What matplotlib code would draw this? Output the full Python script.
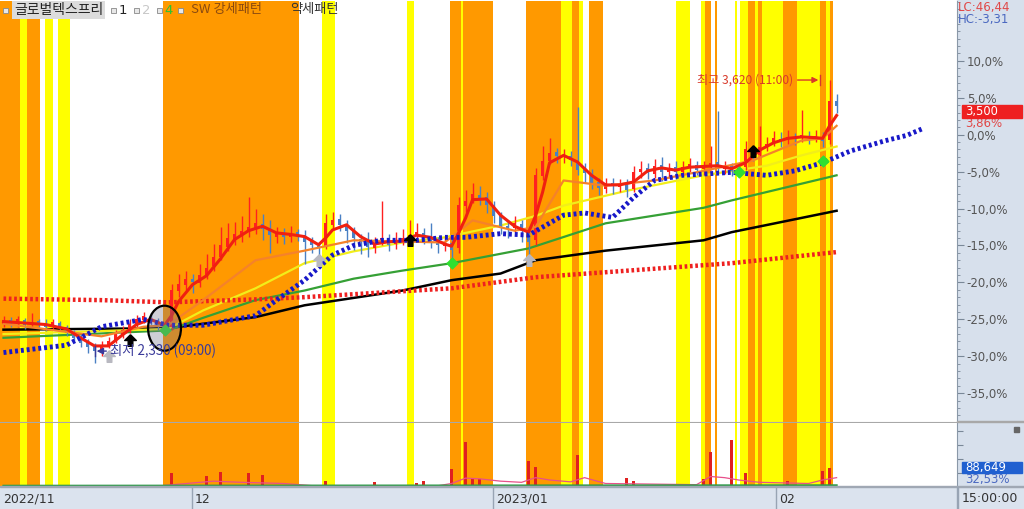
import numpy as np
import matplotlib.pyplot as plt
from matplotlib.patches import Ellipse, Rectangle
from matplotlib.ticker import MultipleLocator, FuncFormatter

plt.rcParams['font.family'] = ['Noto Sans CJK KR', 'DejaVu Sans']

stock_name = '글로벌텍스프리'
high_label = '최고 3,620 (11:00)'
low_label = '최저 2,330 (09:00)'
month_labels = ['2022/11', '12', '2023/01', '02']
month_starts = [-0.5, 26.9, 69.9, 110.4]
last_time = '15:00:00'

# candles, in % from reference price
open_ = [-25.6, -25.1, -25.6, -25.1, -25.7, -25.2, -25.5, -25.9, -25.5,
         -26.1, -26.9, -27.6, -28.1, -28.7, -29.4,
         -28.5, -27.8, -27.1, -26.3, -25.7, -25.1,
         -24.7, -25.2, -25.8,
         -26.0, -21.2, -20.4, -19.5, -20.1, -19.1, -17.8, -16.6, -15.2, -14.1, -13.7, -13.1, -12.6, -12.1, -12.7, -13.8, -13.3, -13.9, -13.2, -13.6, -14.4, -15.1,
         -15.1, -12.2, -11.4, -12.3, -12.9, -14.1, -14.4, -15.3, -14.5, -14.1, -14.8, -14.2, -14.1, -13.5, -13.3, -14.1, -14.5, -15.1, -14.6,
         -15.4, -9.6, -8.9, -8.1, -8.5, -9.6, -10.9, -12.4, -12.7, -12.1, -13.1,
         -14.3, -5.6, -3.6, -2.4, -3.0, -2.9, -3.5, -4.7, -5.3, -6.4, -7.3, -6.5, -7.1, -6.7,
         -7.4, -5.1, -4.5, -5.3, -4.1, -5.1, -4.4, -5.1, -4.3, -4.1, -4.7, -4.3, -3.7, -4.7, -4.3, -5.0,
         -4.4, -2.1, -2.7, -1.7, -1.1, -0.6, -0.7, -0.4, -0.5, -0.2, -0.3, -0.3, -0.7, 4.5]
close = [-25.2, -25.5, -25.0, -25.8, -25.3, -25.6, -26.0, -25.4, -26.2,
         -26.8, -27.5, -28.2, -28.8, -29.3, -28.6,
         -27.9, -27.0, -26.4, -25.6, -25.0, -24.6,
         -25.3, -25.9, -26.2,
         -21.0, -20.2, -19.6, -20.0, -19.0, -18.0, -16.5, -15.0, -14.0, -13.5, -13.0, -12.5, -12.0, -12.8, -13.6, -13.4, -13.8, -13.3, -13.7, -14.5, -15.0, -15.3,
         -12.0, -11.5, -12.2, -13.0, -14.0, -14.5, -15.2, -14.6, -14.0, -14.9, -14.3, -14.0, -13.6, -13.2, -14.0, -14.6, -15.0, -14.7, -15.6,
         -9.5, -9.0, -8.0, -8.6, -9.5, -11.0, -12.3, -12.8, -12.0, -13.0, -14.5,
         -5.5, -3.5, -2.5, -2.9, -3.0, -3.4, -4.8, -5.2, -6.5, -7.2, -6.6, -7.0, -6.8, -7.5,
         -5.0, -4.6, -5.2, -4.2, -5.0, -4.5, -5.0, -4.4, -4.0, -4.8, -4.2, -3.8, -4.6, -4.4, -4.9, -4.5,
         -2.0, -2.8, -1.6, -1.2, -0.5, -0.8, -0.3, -0.6, -0.1, -0.4, -0.2, -0.8, 4.6, 3.86]
high = [-24.6, -24.7, -24.5, -24.8, -24.2, -24.9, -25.0, -25.0, -25.2,
        -25.8, -26.4, -27.0, -27.6, -28.2, -28.0,
        -27.4, -26.5, -25.9, -25.0, -24.4, -24.0,
        -24.2, -24.8, -25.3,
        -20.2, -18.8, -18.5, -18.9, -17.5, -16.2, -14.8, -12.5, -12.0, -11.8, -11.0, -8.5, -10.0, -10.8, -11.5, -12.5, -12.6, -12.4, -12.8, -12.9, -13.8, -14.5,
        -10.8, -10.5, -10.8, -11.6, -12.5, -13.4, -13.2, -13.8, -9.0, -13.5, -13.2, -12.8, -11.5, -12.0, -12.6, -12.0, -13.8, -13.9, -14.0,
        -8.5, -7.5, -6.5, -7.0, -7.8, -9.0, -10.5, -11.5, -11.0, -11.5, -12.5,
        -4.5, -1.5, -0.5, -1.8, -2.0, -2.2, 3.8, -3.8, -4.6, -5.8, -5.9, -5.8, -6.0, -6.0,
        -4.2, -3.5, -3.9, -3.3, -3.0, -3.8, -3.5, -3.6, -3.2, -3.6, -3.5, -1.5, 3.2, -3.6, -3.8, -3.9,
        -0.8, -1.6, 1.2, -0.3, 0.5, 0.3, 0.6, 0.2, 3.3, 0.5, 0.6, 0.4, 7.4, 5.5]
low = [-26.0, -26.0, -26.0, -26.3, -26.1, -26.0, -26.6, -26.3, -26.6,
       -27.2, -28.0, -28.8, -29.5, -30.9, -30.0,
       -28.9, -28.2, -27.5, -26.8, -26.0, -25.5,
       -25.8, -26.5, -26.8,
       -26.4, -22.0, -21.0, -21.5, -20.6, -19.5, -18.4, -17.0, -15.8, -15.0, -14.5, -13.8, -13.5, -14.2, -16.0, -14.6, -14.8, -14.5, -14.4, -17.5, -16.0, -17.0,
       -15.5, -12.6, -13.0, -14.6, -15.6, -16.2, -16.5, -16.0, -15.0, -15.8, -15.5, -14.9, -14.6, -14.2, -14.8, -15.4, -16.0, -15.8, -17.0,
       -16.0, -10.4, -9.2, -9.5, -10.6, -12.0, -13.4, -14.0, -13.2, -14.5, -17.2,
       -15.0, -6.2, -4.0, -3.8, -3.8, -4.3, -5.5, -6.5, -7.4, -8.2, -7.9, -8.0, -7.8, -8.4,
       -7.8, -5.8, -6.0, -5.8, -6.3, -5.8, -6.0, -5.6, -5.0, -5.5, -5.4, -4.8, -5.2, -5.3, -5.6, -5.4,
       -4.8, -3.6, -3.0, -2.2, -1.5, -1.6, -1.2, -1.4, -1.0, -1.2, -1.0, -1.6, -1.2, 3.0]

# moving averages (bar index, value)
ma_red_x = [0, 3, 6, 9, 11, 13, 15, 17, 19, 21, 23, 24, 25, 27, 29, 31, 33, 35, 37, 39,
            41, 43, 45, 46, 47, 49, 51, 53, 55, 57, 59, 61, 63, 64, 65, 66, 67, 69, 71, 73,
            75, 76, 77, 78, 80, 82, 84, 86, 88, 90, 92, 94, 96, 98, 100, 102, 104, 106, 108, 110,
            112, 114, 116, 117, 118, 119]
ma_red = [-25.3, -25.5, -25.7, -26.3, -27.5, -28.6, -28.6, -27.1, -25.7, -25.0,
          -25.8, -24.5, -22.6, -20.3, -19.1, -16.8, -14.2, -13.0, -12.4, -13.3,
          -13.5, -13.8, -14.9, -14.0, -12.9, -12.2, -13.8, -14.8, -14.5, -14.4,
          -13.6, -13.9, -14.8, -15.1, -13.3, -11.3, -8.8, -8.7, -10.9, -12.4,
          -13.2, -11.0, -7.8, -3.8, -2.8, -3.7, -5.5, -6.8, -6.8, -6.4,
          -4.9, -4.5, -4.8, -4.4, -4.3, -4.2, -4.6, -3.8, -2.1, -1.1,
          -0.5, -0.3, -0.4, -0.5, 1.2, 2.6]
ma_orange_x = [0, 14, 20, 23.5, 28.5, 36, 43, 50, 63, 67, 73, 76, 80, 86, 93, 100, 107, 114, 117, 119]
ma_orange = [-25.6, -27.3, -26.0, -25.8, -22.4, -17.0, -15.7, -14.3, -14.6, -11.6, -13.0, -12.5, -6.2, -6.9, -6.2, -4.9, -3.5, -0.8, -0.5, 1.2]
ma_yellow_x = [0, 23.5, 28.5, 36, 43, 50, 57, 63, 71, 76, 80, 89, 100, 109, 114, 119]
ma_yellow = [-27.0, -26.3, -23.8, -20.8, -17.4, -15.8, -14.6, -13.9, -12.3, -11.0, -9.6, -7.6, -5.5, -4.2, -2.8, -1.6]
ma_green_x = [0, 23.5, 28.5, 36, 43, 50, 57, 64, 75, 86, 100, 104, 119]
ma_green = [-27.5, -26.5, -24.8, -22.4, -21.1, -19.5, -18.4, -17.4, -15.4, -12.0, -9.9, -8.9, -5.5]
ma_black_x = [0, 23.5, 36, 43, 57, 64, 71, 76, 86, 100, 104, 119]
ma_black = [-26.4, -26.2, -24.7, -23.1, -21.1, -19.7, -18.8, -17.0, -15.7, -14.3, -13.2, -10.3]
ma_reddot_x = [0, 14, 23.5, 36, 43, 64, 76, 104, 119]
ma_reddot = [-22.2, -22.4, -22.7, -22.3, -22.0, -20.8, -19.3, -17.4, -15.9]
ma_blue_x = [0, 9, 14, 20, 23.5, 28.5, 36, 39, 43, 47, 50, 54, 59, 63, 66, 71, 75, 80, 83, 87, 90, 93, 97, 104, 109, 113, 117, 121, 126, 129, 131.5]
ma_blue = [-29.5, -28.5, -26.0, -25.0, -25.8, -25.8, -24.5, -22.4, -19.7, -16.3, -15.0, -14.3, -14.3, -13.9, -13.9, -13.4, -13.6, -10.9, -10.6, -11.2, -8.5, -6.2, -5.5, -5.1, -5.5, -4.9, -3.8, -2.2, -0.8, -0.1, 0.9]

# pattern bands (bar index ranges)
strong_bands = [(-0.5, 2.4), (3.4, 5.2), (22.8, 42.2), (63.8, 65.4), (65.6, 69.9), (74.6, 79.6),
                (81.2, 82.2), (83.6, 85.6), (100.2, 101.1), (101.6, 101.9), (106.4, 107.4),
                (107.8, 108.4), (111.4, 113.4), (116.6, 117.5), (118.1, 118.5)]
weak_bands = [(2.4, 3.4), (5.9, 7.1), (7.8, 9.5), (45.5, 47.4), (57.6, 58.6), (65.4, 65.6),
              (79.6, 81.2), (82.2, 82.8), (96.1, 98.1), (99.6, 100.2), (104.5, 104.8),
              (105.2, 106.4), (107.4, 107.8), (108.4, 111.4), (113.4, 116.6), (117.5, 118.1)]

# signals
sig_black_x = [18, 58, 107]
sig_black_y = [-27.8, -14.3, -2.2]
sig_gray_x = [15, 45, 75]
sig_gray_y = [-29.9, -17.0, -17.0]
sig_green_x = [23, 64, 105, 117]
sig_green_y = [-26.5, -17.4, -5.1, -3.5]

# volume panel
vol_x = [24, 29, 31, 35, 37, 46, 53, 59, 60, 64, 66, 67, 68, 75, 76, 82, 89, 90, 100, 101, 104, 106, 112, 117, 118]
volume = [59000, 46000, 63000, 59000, 51000, 25000, 21000, 17000, 25000, 76000, 194000, 34000, 34000,
          110000, 84000, 139000, 38000, 25000, 34000, 148000, 202000, 59000, 25000, 67000, 80000]
vol_ma_x = [22, 25, 30, 34, 40, 44, 62, 64, 66, 68, 71, 74, 76, 78, 81, 83, 86, 99, 101, 103, 105, 108, 115, 117, 119]
vol_ma = [4000, 12000, 25000, 20000, 15000, 6000, 5000, 15000, 38000, 35000, 25000, 20000, 40000, 30000,
          22000, 40000, 15000, 10000, 45000, 40000, 30000, 20000, 15000, 30000, 40000]
vol_long_x = [0, 60, 119]
vol_long = [5000, 6000, 7000]

W, H = 1024, 509
fig = plt.figure(figsize=(W / 100, H / 100), dpi=100)


def fx(px):
    return px / W


def fy(py):
    return 1 - py / H


# background panels
fig.patches.append(Rectangle((fx(957), fy(487)), 1 - fx(957), fy(0) - fy(487),
                             transform=fig.transFigure, color='#d7e0ec', zorder=-5))

ORANGE, YELLOW = '#ff9900', '#ffff00'
UP, DOWN = '#ff2020', '#4a80c4'

ax = fig.add_axes([0, fy(422), fx(957), (422 - 1) / H])
ax2 = fig.add_axes([0, fy(487), fx(957), 64 / H], sharex=ax)
ax3 = fig.add_axes([0, 0, fx(957), 22 / H], sharex=ax)

for a in (ax, ax2):
    for s, e in strong_bands:
        a.axvspan(s, e, color=ORANGE, lw=0, zorder=0)
    for s, e in weak_bands:
        a.axvspan(s, e, color=YELLOW, lw=0, zorder=0)

o = np.array(open_)
c = np.array(close)
hi = np.array(high)
lo = np.array(low)
x = np.arange(len(c))
cols = np.where(c >= o, UP, DOWN)
ax.vlines(x, lo, hi, colors=cols, lw=1, zorder=3)
ax.bar(x, np.where(np.abs(c - o) < 0.15, 0.15, c - o), bottom=o, width=0.5, color=cols, zorder=3)

ax.plot(ma_black_x, ma_black, color='black', lw=1.8, zorder=2)
ax.plot(ma_green_x, ma_green, color='#35a035', lw=1.6, zorder=2)
ax.plot(ma_yellow_x, ma_yellow, color='#f2ee1a', lw=1.6, zorder=2)
ax.plot(ma_reddot_x, ma_reddot, color='#ee2020', lw=3.2, ls=(0, (0.6, 0.6)), zorder=2)
ax.plot(ma_orange_x, ma_orange, color='#f5822a', lw=1.6, zorder=4)
ax.plot(ma_red_x, ma_red, color='#f02010', lw=2.2, zorder=4)
ax.plot(ma_blue_x, ma_blue, color='#1818c8', lw=3.5, ls=(0, (0.6, 0.6)), zorder=5)

arrow = [(0, 1), (-1, 0), (-0.4, 0), (-0.4, -1), (0.4, -1), (0.4, 0), (1, 0), (0, 1)]
ax.scatter(sig_black_x, sig_black_y, marker=arrow, s=70, color='black', zorder=6)
ax.scatter(sig_gray_x, sig_gray_y, marker=arrow, s=70, color='#b8b8c0', zorder=6)
ax.scatter(sig_green_x, sig_green_y, marker='D', s=30, color='#30e030', zorder=6)

ax.add_patch(Ellipse((23, -26.2), 4.7, 6.1, facecolor=(0.45, 0.45, 0.55, 0.35),
                     edgecolor='black', lw=1.6, zorder=7))

# high / low annotations
ih = int(np.argmax(hi))
ax.annotate(high_label, xy=(ih - 1.6, hi[ih]), xytext=(-18, 0), textcoords='offset points',
            ha='right', va='center', color='#d83a2a', fontsize=8.7,
            arrowprops=dict(arrowstyle='-|>', color='#d83a2a', lw=1, shrinkA=1, shrinkB=0), zorder=8)
ax.plot([ih - 1.4, ih - 1.4], [hi[ih] - 0.7, hi[ih] + 0.7], color='#d83a2a', lw=1, zorder=8)
il = int(np.argmin(lo))
ax.annotate(low_label, xy=(il + 0.3, lo[il] + 1.6), xytext=(10, 0), textcoords='offset points',
            ha='left', va='center', color='#3a3a9a', fontsize=9.6,
            arrowprops=dict(arrowstyle='-|>', color='#3a3a9a', lw=1, shrinkA=1, shrinkB=0), zorder=8)
ax.plot([il, il], [lo[il] + 0.9, lo[il] + 2.3], color='#3a3a9a', lw=1, zorder=8)

ax.set_xlim(-0.5, 136.2)
ax.set_ylim(-38.9, 18.1)
ax.yaxis.tick_right()
ax.set_yticks(np.arange(-35, 11, 5))
ax.yaxis.set_minor_locator(MultipleLocator(1))
ax.yaxis.set_major_formatter(FuncFormatter(lambda v, p: f'{v:.1f}%'.replace('.', ',')))
ax.tick_params(axis='y', which='major', direction='out', length=5, width=0.8, color='#7a8898',
               labelsize=8.5, labelcolor='#555555', pad=2, labelfontfamily='DejaVu Sans')
ax.tick_params(axis='y', which='minor', direction='out', length=2.5, width=0.6, color='#7a8898')
ax.tick_params(axis='x', bottom=False, labelbottom=False)
for s in ('top', 'left'):
    ax.spines[s].set_visible(False)
ax.spines['right'].set_color('#8a98a8')
ax.spines['bottom'].set_color('#a8a8a8')

# volume panel
ax2.bar(vol_x, volume, width=0.5, color='#e02020', zorder=3)
ax2.plot(vol_ma_x, vol_ma, color='#e8508a', lw=0.9, zorder=4)
ax2.plot(vol_long_x, vol_long, color='#2f9a4a', lw=1.6, zorder=4)
ax2.set_ylim(0, 274000)
ax2.yaxis.tick_right()
ax2.set_yticks([60000, 120000, 180000, 240000])
ax2.tick_params(axis='y', direction='out', length=4, color='#7a8898', labelright=False)
ax2.tick_params(axis='x', bottom=False, labelbottom=False)
for s in ('top', 'left'):
    ax2.spines[s].set_visible(False)
ax2.spines['right'].set_color('#8a98a8')
ax2.spines['bottom'].set_color('#a8a8a8')

# date strip
ax3.set_facecolor('#dbe3ee')
ax3.set_ylim(0, 1)
ax3.set_yticks([])
ax3.tick_params(axis='x', bottom=False, labelbottom=False)
for s in ('top', 'left', 'right', 'bottom'):
    ax3.spines[s].set_visible(False)
for m, lab in zip(month_starts, month_labels):
    if m > 0:
        ax3.axvline(m, color='#98a4b4', lw=1)
    ax3.text(m + 0.4, 0.45, lab, va='center', ha='left', fontsize=9, color='#333333',
             family='DejaVu Sans')
fig.patches.append(Rectangle((0, fy(487)), 1, 0.002, transform=fig.transFigure,
                             color='#a0a8b4', zorder=5))
fig.patches.append(Rectangle((fx(957), fy(422)), 1 - fx(957), 0.002, transform=fig.transFigure,
                             color='#a8a8a8', zorder=5))
fig.patches.append(Rectangle((0, 0), 1, fy(487), transform=fig.transFigure,
                             color='#dbe3ee', zorder=-6))
fig.text(fx(962), fy(498), last_time, fontsize=9, color='#333333', va='center', family='DejaVu Sans')
fig.patches.append(Rectangle((fx(957), 0), 0.001, fy(487), transform=fig.transFigure,
                             color='#98a4b4', zorder=5))

# top legend
fig.text(fx(14), fy(10), stock_name, fontsize=10, color='#222222', va='center',
         bbox=dict(boxstyle='square,pad=0.12', facecolor='#dcdcdc', edgecolor='none'))
for px in (3, 111, 134, 157, 178):
    fig.patches.append(Rectangle((fx(px), fy(13)), 5 / W, 5 / H, transform=fig.transFigure,
                                 facecolor='#e8e8e8', edgecolor='#888888', lw=0.6, zorder=5))
fig.text(fx(119), fy(10), '1', fontsize=9.5, color='#222222', va='center', family='DejaVu Sans')
fig.text(fx(142), fy(10), '2', fontsize=9.5, color='#c8c8c8', va='center', family='DejaVu Sans')
fig.text(fx(164), fy(10), '4', fontsize=9.5, color='#30c030', va='center', family='DejaVu Sans')
fig.text(fx(191), fy(10), 'SW 강세패턴', fontsize=9.5, color='#8a4a10', va='center')
fig.text(fx(290), fy(10), '약세패턴', fontsize=9.5, color='#333333', va='center')

# right side labels
fig.text(fx(958), fy(8), 'LC:46,44', fontsize=8.5, color='#e04848', va='center', family='DejaVu Sans')
fig.text(fx(958), fy(20), 'HC:-3,31', fontsize=8.5, color='#4a68c0', va='center', family='DejaVu Sans')
fig.patches.append(Rectangle((fx(962), fy(118)), 60 / W, 13 / H, transform=fig.transFigure,
                             color='#ee2020', zorder=5))
fig.text(fx(965), fy(111.5), '3,500', fontsize=8.3, color='white', va='center', family='DejaVu Sans', zorder=6)
fig.text(fx(965), fy(124), '3,86%', fontsize=8.5, color='#e04848', va='center', family='DejaVu Sans')
fig.patches.append(Rectangle((fx(962), fy(473)), 60 / W, 11 / H, transform=fig.transFigure,
                             color='#2060d0', zorder=5))
fig.text(fx(965), fy(467), '88,649', fontsize=8.5, color='white', va='center', family='DejaVu Sans', zorder=6)
fig.text(fx(965), fy(480), '32,53%', fontsize=8.5, color='#4a68c0', va='center', family='DejaVu Sans')
fig.patches.append(Rectangle((fx(1014), fy(432)), 5 / W, 5 / H, transform=fig.transFigure,
                             color='#666666', zorder=5))

fig.savefig('out.png', dpi=100)
